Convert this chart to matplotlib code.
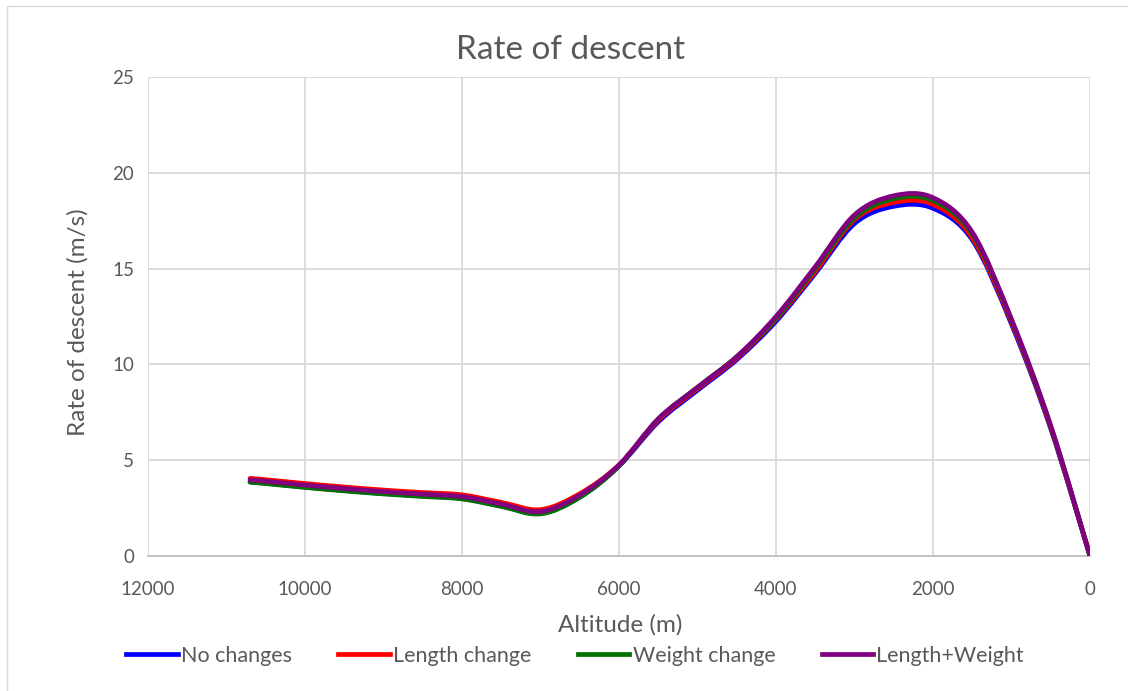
import numpy as np
import matplotlib
matplotlib.use("Agg")
import matplotlib.pyplot as plt
from matplotlib.path import Path
from matplotlib.patches import PathPatch, Rectangle
from matplotlib.lines import Line2D

plt.rcParams['font.family'] = ['Lato', 'DejaVu Sans']

# Altitude samples (m) and rate of descent (m/s) for each configuration
altitude = [10700, 10500, 10000, 9500, 9000, 8500, 8000, 7500, 7000, 6500, 6000,
            5500, 5000, 4500, 4000, 3500, 3000, 2500, 2000, 1500, 1000, 500, 0]

no_changes = [3.87, 3.80, 3.60, 3.42, 3.26, 3.13, 3.00, 2.61, 2.22, 3.08, 4.70,
              7.00, 8.65, 10.25, 12.25, 14.75, 17.35, 18.25, 18.15, 16.50, 12.10, 6.65, 0.0]
length_change = [4.05, 3.98, 3.78, 3.60, 3.44, 3.31, 3.19, 2.80, 2.42, 3.25, 4.75,
                 7.08, 8.73, 10.33, 12.35, 14.85, 17.55, 18.45, 18.35, 16.60, 12.20, 6.70, 0.0]
weight_change = [3.85, 3.78, 3.58, 3.40, 3.24, 3.11, 2.98, 2.59, 2.20, 3.06, 4.70,
                 7.15, 8.80, 10.40, 12.40, 15.00, 17.65, 18.65, 18.55, 16.80, 12.30, 6.75, 0.0]
length_weight = [3.97, 3.90, 3.70, 3.52, 3.36, 3.23, 3.10, 2.71, 2.32, 3.18, 4.75,
                 7.15, 8.80, 10.40, 12.50, 15.10, 17.80, 18.80, 18.70, 16.90, 12.35, 6.80, 0.0]

series_names = ["No changes", "Length change", "Weight change", "Length+Weight"]
series_values = [no_changes, length_change, weight_change, length_weight]
series_colors = ["#0000FF", "#FF0000", "#007000", "#800080"]

x_ticks = [12000, 10000, 8000, 6000, 4000, 2000, 0]
y_ticks = [0, 5, 10, 15, 20, 25]

text_color = "#595959"
grid_color = "#D9D9D9"


def smooth_path(xs, ys):
    """Smoothed line through the points using cubic Bezier segments."""
    pts = np.column_stack([xs, ys]).astype(float)
    n = len(pts)
    verts = [pts[0]]
    codes = [Path.MOVETO]
    for i in range(n - 1):
        p0 = pts[i - 1] if i > 0 else pts[i]
        p1 = pts[i]
        p2 = pts[i + 1]
        p3 = pts[i + 2] if i + 2 < n else pts[i + 1]
        c1 = p1 + (p2 - p0) / 6.0
        c2 = p2 - (p3 - p1) / 6.0
        verts += [c1, c2, p2]
        codes += [Path.CURVE4] * 3
    return Path(verts, codes)


fig = plt.figure(figsize=(11.28, 6.91), dpi=100)
fig.patch.set_facecolor("white")

# Chart-area border
fig.add_artist(Rectangle((7 / 1128, -0.05), 1.2, 1 - 6 / 691 + 0.05,
                         transform=fig.transFigure, fill=False,
                         edgecolor="#D9D9D9", linewidth=1.0))

ax = fig.add_axes([148 / 1128, 1 - 556 / 691, 942 / 1128, 479 / 691])
ax.set_xlim(12000, 0)
ax.set_ylim(0, 25)
ax.set_xticks(x_ticks)
ax.set_yticks(y_ticks)
ax.set_xticklabels([str(t) for t in x_ticks])
ax.set_yticklabels([str(t) for t in y_ticks])
ax.grid(True, color=grid_color, linewidth=1.3)
ax.set_axisbelow(True)
for side in ["top", "right", "left"]:
    ax.spines[side].set_visible(False)
ax.spines["bottom"].set_color("#BFBFBF")
ax.spines["bottom"].set_linewidth(1.3)
ax.tick_params(axis="both", length=0, colors=text_color, labelsize=13.5)
ax.tick_params(axis="x", pad=18)
ax.tick_params(axis="y", pad=10)

for vals, color in zip(series_values, series_colors):
    patch = PathPatch(smooth_path(altitude, vals), facecolor="none",
                      edgecolor=color, linewidth=3.4, capstyle="round",
                      joinstyle="round", zorder=3)
    ax.add_patch(patch)

fig.text(571 / 1128, 1 - 50 / 691, "Rate of descent", ha="center", va="center",
         fontsize=24, color=text_color)
fig.text(620 / 1128, 1 - 625 / 691, "Altitude (m)", ha="center", va="center",
         fontsize=17.5, color=text_color)
fig.text(78 / 1128, 1 - 322 / 691, "Rate of descent (m/s)", ha="center",
         va="center", rotation=90, fontsize=17.5, color=text_color)

handles = [Line2D([0], [0], color=c, linewidth=3.4) for c in series_colors]
fig.legend(handles, series_names, loc="center", ncol=4,
           bbox_to_anchor=(575 / 1128, 1 - 656 / 691), frameon=False,
           fontsize=15.5, labelcolor=text_color, handlelength=2.4,
           handletextpad=0.15, columnspacing=2.15)

fig.savefig("out.png", dpi=100, facecolor="white")
